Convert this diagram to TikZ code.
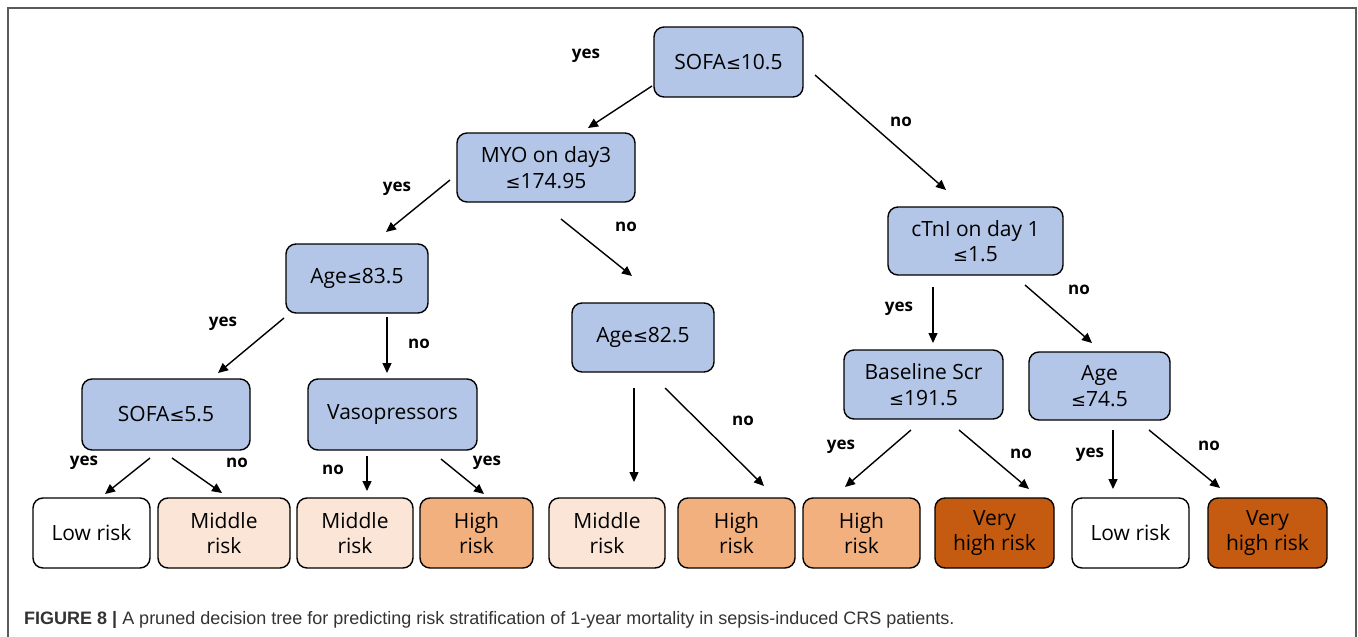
\documentclass[tikz,border=0pt]{standalone}
\usepackage{fontspec}
\setmainfont{Open Sans}
\newfontfamily\capfont{Liberation Sans}
\newfontfamily\symfont[Scale=0.85]{DejaVu Sans}
\newcommand\lesym{{\symfont ≤}}
\usetikzlibrary{arrows.meta}
\definecolor{splitfill}{HTML}{B4C6E7}
\definecolor{midfill}{HTML}{FBE5D6}
\definecolor{highfill}{HTML}{F2B07E}
\definecolor{vhighfill}{HTML}{C55A11}
\definecolor{framegray}{HTML}{5A5A5A}
\tikzset{
	split/.style={draw, rounded corners=10pt, fill=splitfill, line width=1.4pt,
		align=center, inner sep=2pt, font=\fontsize{21}{25.5}\selectfont},
	leaf/.style={split, minimum height=70pt},
	arr/.style={-{Triangle[length=10pt,width=9pt]}, line width=1.4pt},
	answer/.style={font=\bfseries\fontsize{17}{20}\selectfont},
}
\begin{document}
\begin{tikzpicture}[x=1pt,y=-1pt]
	\useasboundingbox (0,0) rectangle (1358,637);
	\draw[framegray, line width=2pt] (8,660) -- (8,8) -- (1356,8) -- (1356,660);
	% split nodes
	\node[split, minimum width=149pt, minimum height=70pt] (sofa) at (728.5,62) {SOFA\lesym10.5};
	\node[split, minimum width=178pt, minimum height=69pt] (myo) at (546,167.5) {MYO on day3\\\lesym174.95};
	\node[split, minimum width=175pt, minimum height=68pt] (ctni) at (975.5,241) {cTnI on day 1\\\lesym1.5};
	\node[split, minimum width=142pt, minimum height=69pt] (ageA) at (357,278.5) {Age\lesym83.5};
	\node[split, minimum width=142pt, minimum height=69pt] (ageB) at (643,337.5) {Age\lesym82.5};
	\node[split, minimum width=159pt, minimum height=69pt] (scr) at (923.5,384.5) {Baseline Scr\\\lesym191.5};
	\node[split, minimum width=141pt, minimum height=68pt] (ageC) at (1099.5,386) {Age\\\lesym74.5};
	\node[split, minimum width=168pt, minimum height=71pt] (sofb) at (166,414.5) {SOFA\lesym5.5};
	\node[split, minimum width=169pt, minimum height=71pt] (vaso) at (392.5,414.5) {Vasopressors};
	% leaves
	\foreach \name/\x/\w/\col/\txt in
	{l1/91.5/117/white/Low risk, l2/224/132/midfill/Middle\\risk,
		l3/355/116/midfill/Middle\\risk, l4/476.5/113/highfill/High\\risk,
		l5/607/116/midfill/Middle\\risk, l6/736.5/117/highfill/High\\risk,
		l7/861.5/117/highfill/High\\risk, l8/994.5/119/vhighfill/Very\\high risk,
		l9/1130.5/117/white/Low risk, l10/1267.5/119/vhighfill/Very\\high risk}
	\node[leaf, fill=\col, minimum width=\w pt] (\name) at (\x,533) {\txt};
	% arrows
	\foreach \a/\ax/\ay/\b/\bx/\by in
	{sofa/-76.5/24/myo/42/-39.5, sofa/86.5/13/ctni/-29.5/-51,
		myo/-96/12.5/ageA/29/-46.5, myo/15/51.5/ageB/-11/-61.5,
		ageA/-73/39.5/sofb/52/-41.5, ageA/30/38.5/vaso/-5.5/-41.5,
		ctni/-42.5/46/scr/9.5/-41.5, ctni/49.5/44/ageC/-7.5/-43,
		sofb/-16/43.5/l1/13.5/-39, sofb/6/43.5/l2/-2/-40,
		vaso/-25.5/41.5/l3/12/-42, vaso/48.5/44.5/l4/7.5/-39,
		ageB/-9/50.5/l5/27/-51, ageB/22/50.5/l6/27.5/-47,
		scr/-12.5/45.5/l7/-16.5/-46, scr/35.5/45.5/l8/34.5/-44,
		ageC/13.5/44/l9/-17.5/-44, ageC/49.5/44/l10/-47.5/-45}
	\draw[arr] ([shift={(\ax,\ay)}]\a.center) -- ([shift={(\bx,\by)}]\b.center);
	% yes / no
	\foreach \name/\x/\y/\txt in
	{y1/586/56/yes, n1/901/122/no, y2/397/189/yes, n2/626/227/no,
		y3/223/324/yes, n3/419/344/no, y4/899/309/yes, n4/1079/290/no,
		y5/84/463/yes, n5/237/463/no, n6/333/470/no, y6/487/463/yes,
		n7/743/421/no, y7/841/447/yes, n8/1021/454/no, y8/1090/455/yes,
		n9/1209/446/no}
	\node[answer] (\name) at (\x,\y) {\txt};
	\node[anchor=base west, inner sep=0pt, text=black!80,
	font=\capfont\fontsize{18}{21}\selectfont] (caption) at (24,624)
	{\textbf{FIGURE 8 |} A pruned decision tree for predicting risk stratification of 1-year mortality in sepsis-induced CRS patients.};
\end{tikzpicture}
\end{document}
